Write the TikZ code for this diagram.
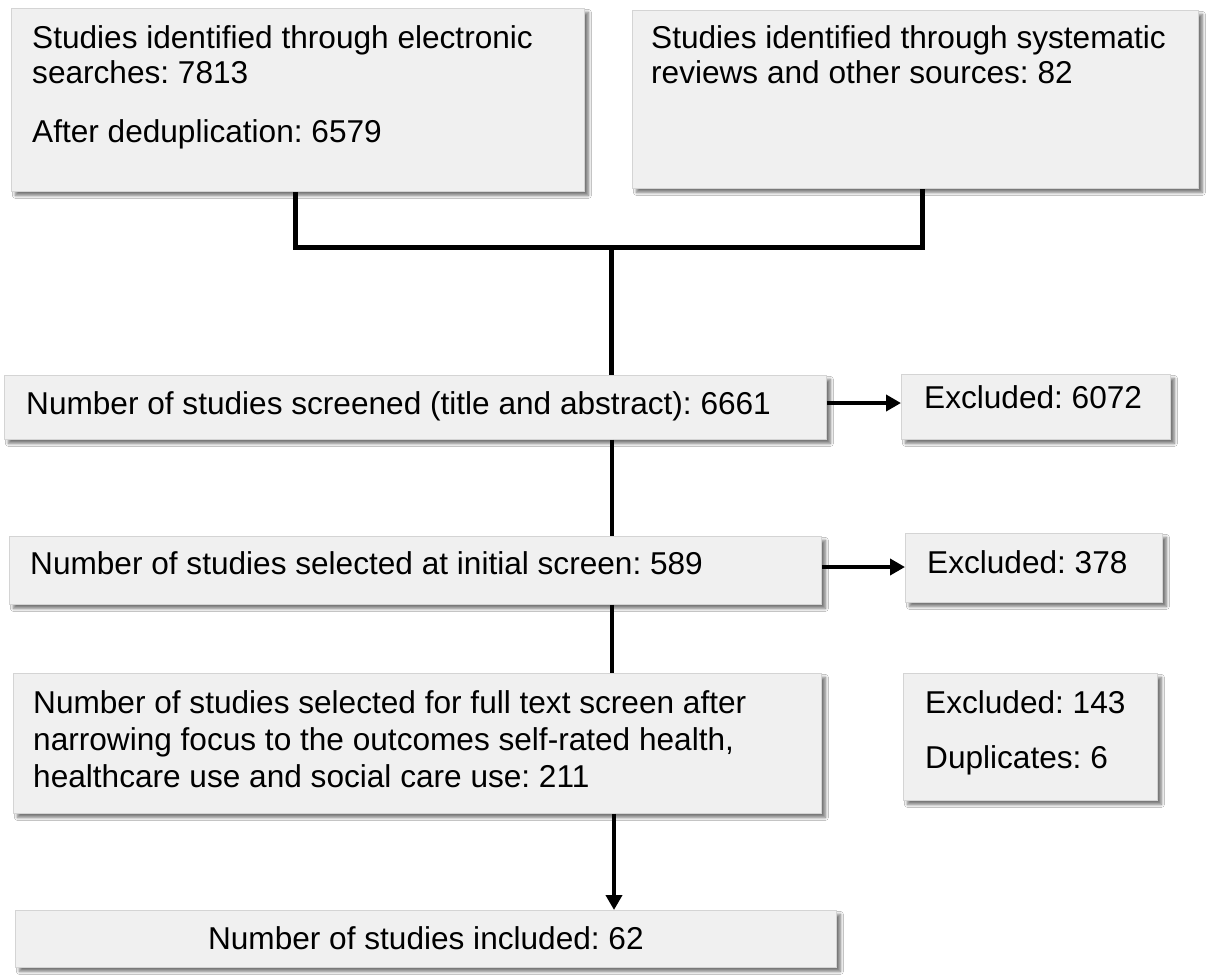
\documentclass[tikz,border=0pt]{standalone}
\usepackage{fontspec}
\setmainfont{Liberation Sans}
\usetikzlibrary{arrows.meta,shadows.blur}
\definecolor{boxfill}{HTML}{F0F0F0}
\definecolor{boxline}{HTML}{D4D4D4}
\frenchspacing
\begin{document}
\begin{tikzpicture}[x=1pt,y=-1pt,
  box/.style={draw=boxline, line width=0.8pt, fill=boxfill, inner sep=0pt, anchor=north west,
    blur shadow={shadow xshift=4pt, shadow yshift=-4pt, shadow blur steps=6, shadow blur radius=3pt, shadow opacity=55}},
  txt/.style={anchor=base west, inner sep=0pt, font=\fontsize{31.6}{38}\selectfont},
  thick line/.style={line width=5pt, line cap=butt},
  flow/.style={line width=4.5pt},
  arr/.style={line width=4.5pt, -{Triangle[length=15pt,width=16pt]}}]
\fill[white] (0,0) rectangle (1208,978);
\useasboundingbox (0,0) rectangle (1208,978);

% boxes
\node[box, minimum width=573pt, minimum height=183pt] (A) at (11,8) {};
\node[box, minimum width=566pt, minimum height=178pt] (B) at (632,10) {};
\node[box, minimum width=822pt, minimum height=64pt] (C) at (4,375) {};
\node[box, minimum width=269pt, minimum height=65pt] (D) at (901,374) {};
\node[box, minimum width=812pt, minimum height=68pt] (E) at (9,536) {};
\node[box, minimum width=257pt, minimum height=69pt] (F) at (905,533) {};
\node[box, minimum width=808pt, minimum height=140pt] (G) at (13,673) {};
\node[box, minimum width=254pt, minimum height=127pt] (H) at (903,673) {};
\node[box, minimum width=821pt, minimum height=57pt] (I) at (15,910) {};

% texts
\node[txt] (a1) at (32,48) {Studies identified through electronic};
\node[txt] (a2) at (32,83) {searches: 7813};
\node[txt] (a3) at (32,142) {After deduplication: 6579};
\node[txt] (b1) at (651,48) {Studies identified through systematic};
\node[txt] (b2) at (651,83) {reviews and other sources: 82};
\node[txt] (c1) at (26,414) {Number of studies screened (title and abstract): 6661};
\node[txt] (d1) at (924,408) {Excluded: 6072};
\node[txt] (e1) at (30,574) {Number of studies selected at initial screen: 589};
\node[txt] (f1) at (927,573) {Excluded: 378};
\node[txt] (g1) at (33,713) {Number of studies selected for full text screen after};
\node[txt] (g2) at (33,750) {narrowing focus to the outcomes self-rated health,};
\node[txt] (g3) at (33,787) {healthcare use and social care use: 211};
\node[txt] (h1) at (925,713) {Excluded: 143};
\node[txt] (h2) at (925,768) {Duplicates: 6};
\node[font=\fontsize{31.6}{38}\selectfont, inner sep=0pt, anchor=base] (i1) at (I.center |- 0,949) {Number of studies included: 62};

% junction coordinates
\coordinate (jA) at (295,247);
\coordinate (jB) at (922,247);
\coordinate (jM) at (611,247);
\coordinate (xC) at (612,0);
\coordinate (xG) at (614,0);

% connectors
\draw[thick line] (A.south -| jA) -- (jA) -- (jB) -- (B.south -| jB);
\draw[thick line] (jM) -- (C.north -| jM);
\draw[flow] (C.south -| xC) -- (E.north -| xC);
\draw[flow] (E.south -| xC) -- (G.north -| xC);
\draw[arr] (G.south -| xG) -- (I.north -| xG);
\draw[arr] (C.east |- 0,403) -- (D.west |- 0,403);
\draw[arr] (E.east |- 0,567) -- (F.west |- 0,567);
\end{tikzpicture}
\end{document}
